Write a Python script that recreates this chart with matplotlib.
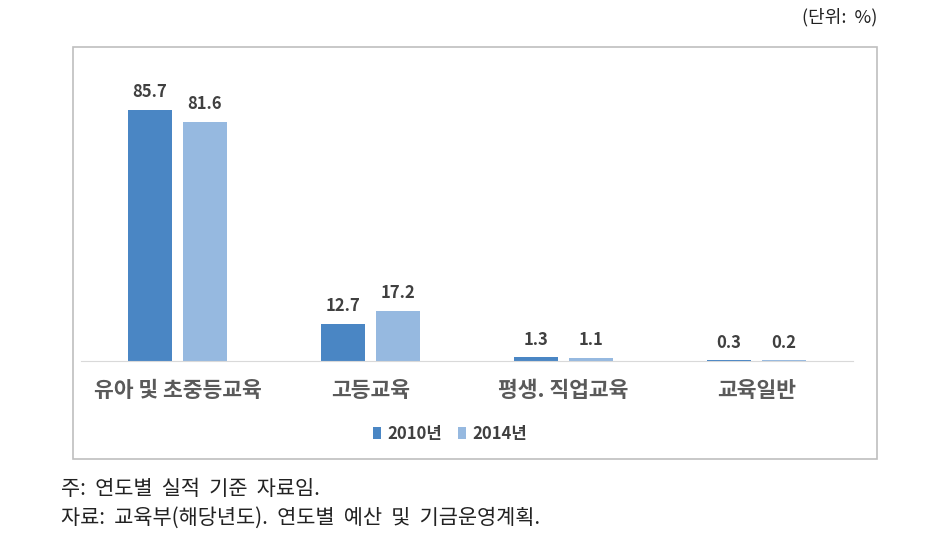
import matplotlib
matplotlib.use("Agg")
from matplotlib import pyplot as plt
from matplotlib.patches import Rectangle
import numpy as np

plt.rcParams['font.family'] = ['Noto Sans CJK KR', 'DejaVu Sans']

categories = ["유아 및 초중등교육", "고등교육", "평생. 직업교육", "교육일반"]
series_names = ["2010년", "2014년"]
v2010 = [85.7, 12.7, 1.3, 0.3]
v2014 = [81.6, 17.2, 1.1, 0.2]
colors = ["#4A86C4", "#96B9E0"]
txt = "#404040"

W, H = 927, 548
fig = plt.figure(figsize=(W / 100, H / 100), dpi=100)

# chart frame
fig.patches.append(Rectangle((73 / W, 1 - 459 / H), (877 - 73) / W, (459 - 47) / H,
                             transform=fig.transFigure, fill=False,
                             edgecolor="#BFBFBF", linewidth=1.2))

ax = fig.add_axes([81 / W, 1 - 361 / H, (853 - 81) / W, (361 - 50) / H])
x = np.arange(len(categories))
w = 0.225
off = 0.142
b1 = ax.bar(x - off, v2010, w, color=colors[0], label=series_names[0])
b2 = ax.bar(x + off, v2014, w, color=colors[1], label=series_names[1])
for bars, vals in [(b1, v2010), (b2, v2014)]:
    for b, v in zip(bars, vals):
        ax.annotate(f"{v:.1f}", (b.get_x() + b.get_width() / 2, v),
                    xytext=(0, 6), textcoords="offset points",
                    ha="center", va="bottom", fontsize=12,
                    fontweight="bold", color=txt)

ax.set_xlim(-0.5, 3.5)
ax.set_ylim(0, 106)
ax.set_yticks([])
ax.set_xticks(x)
ax.set_xticklabels(categories, fontsize=15.5, color="#5A5A5A", fontweight="bold")
ax.tick_params(axis="x", length=0, pad=14)
for s in ["top", "right", "left"]:
    ax.spines[s].set_visible(False)
ax.spines["bottom"].set_color("#D9D9D9")

leg = fig.legend(loc="center", bbox_to_anchor=(450 / W, 1 - 434 / H), ncol=2,
                 frameon=False, fontsize=12, handlelength=0.5, handleheight=0.75,
                 handletextpad=0.4, columnspacing=0.9)
for t in leg.get_texts():
    t.set_color(txt)
    t.set_fontweight("bold")

fig.text(877 / W, 1 - 17 / H, "(단위:  %)", ha="right", va="center", fontsize=13, color="#222222")
fig.text(61 / W, 1 - 489 / H, "주:  연도별  실적  기준  자료임.", ha="left", va="center",
         fontsize=15, color="#222222")
fig.text(61 / W, 1 - 518 / H, "자료:  교육부(해당년도).  연도별  예산  및  기금운영계획.", ha="left",
         va="center", fontsize=15, color="#222222")

fig.savefig("out.png", dpi=100)
